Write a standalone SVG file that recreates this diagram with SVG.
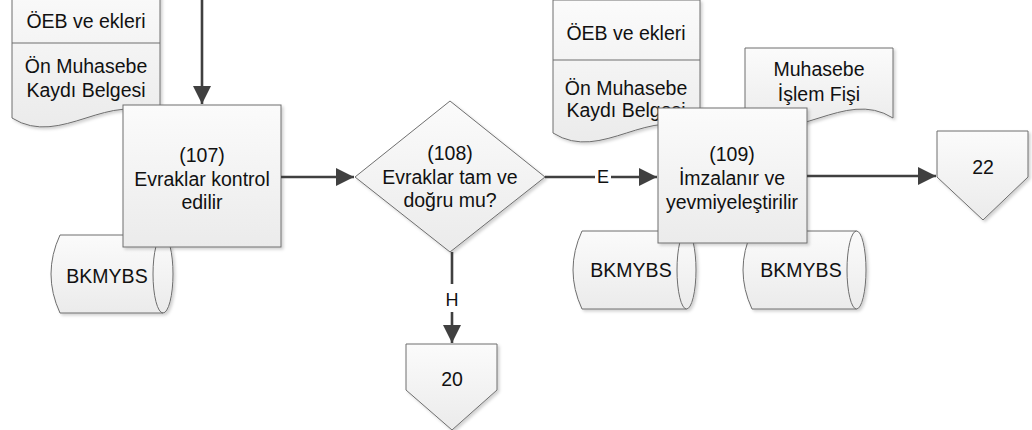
<svg xmlns="http://www.w3.org/2000/svg" width="1032" height="430" viewBox="0 0 1032 430">
<defs>
<linearGradient id="g" x1="0" y1="0" x2="0" y2="1">
<stop offset="0" stop-color="#fbfbfb"/>
<stop offset="1" stop-color="#ebebeb"/>
</linearGradient>
<filter id="sh" x="-10%" y="-10%" width="130%" height="130%">
<feDropShadow dx="2" dy="2" stdDeviation="1.5" flood-color="#000" flood-opacity="0.18"/>
</filter>
<marker id="ah" viewBox="0 0 10 10" refX="10" refY="5" markerWidth="7" markerHeight="7" markerUnits="strokeWidth" orient="auto">
<path d="M0,0 L10,5 L0,10 z" fill="#404040"/>
</marker>
</defs>
<style>
.s{fill:url(#g);stroke:#6e6e6e;stroke-width:1;filter:url(#sh)}
.ln{fill:none;stroke:#6e6e6e;stroke-width:1}
.c{fill:none;stroke:#404040;stroke-width:2.6}
.t{font-family:"Liberation Sans",Arial,sans-serif;font-size:19.5px;fill:#111;text-anchor:middle}
.lb{font-family:"Liberation Sans",Arial,sans-serif;font-size:18px;fill:#111;text-anchor:middle}
</style>
<rect width="1032" height="430" fill="#fff"/>

<g id="doc-left">
<path class="s" d="M12,-20 H160 V118 C110.7,87 61.3,149 12,118 Z"/>
<line class="ln" x1="12" y1="43" x2="160" y2="43"/>
<text class="t" x="86" y="28">ÖEB ve ekleri</text>
<text class="t" x="86" y="73">Ön Muhasebe</text>
<text class="t" x="86" y="97">Kaydı Belgesi</text>
</g>

<g id="cyl-left">
<path class="s" d="M60,235 H163 A10,39 0 0 1 163,313 H60 Q42,274 60,235 Z"/>
<path class="ln" d="M163,235 A10,39 0 0 0 163,313"/>
<text class="t" x="107" y="283">BKMYBS</text>
</g>

<g id="doc-mid">
<path class="s" d="M553,0 H700 V133 C651,102 602,164 553,133 Z"/>
<line class="ln" x1="553" y1="60" x2="700" y2="60"/>
<text class="t" x="626" y="40">ÖEB ve ekleri</text>
<text class="t" x="626" y="95">Ön Muhasebe</text>
<text class="t" x="626" y="117">Kaydı Belgesi</text>
</g>

<g id="doc-fis">
<path class="s" d="M745,48 H893 V118 C843.7,87 794.3,149 745,118 Z"/>
<text class="t" x="819" y="76">Muhasebe</text>
<text class="t" x="819" y="101">İşlem Fişi</text>
</g>

<g id="cyl-r1">
<path class="s" d="M582,231 H686.5 A9.5,39 0 0 1 686.5,309 H582 Q564,270 582,231 Z"/>
<path class="ln" d="M686.5,231 A9.5,39 0 0 0 686.5,309"/>
<text class="t" x="631" y="277">BKMYBS</text>
</g>

<g id="cyl-r2">
<path class="s" d="M752,231 H856.5 A9.5,39 0 0 1 856.5,309 H752 Q734,270 752,231 Z"/>
<path class="ln" d="M856.5,231 A9.5,39 0 0 0 856.5,309"/>
<text class="t" x="801" y="277">BKMYBS</text>
</g>

<g id="n107">
<rect class="s" x="123" y="105" width="158" height="142"/>
<text class="t" x="202" y="162">(107)</text>
<text class="t" x="202" y="186">Evraklar kontrol</text>
<text class="t" x="202" y="209">edilir</text>
</g>

<g id="n108">
<path class="s" d="M450,101 L545,177 L450,252 L355,177 Z"/>
<text class="t" x="450" y="160">(108)</text>
<text class="t" x="450" y="184">Evraklar tam ve</text>
<text class="t" x="450" y="207">doğru mu?</text>
</g>

<g id="n109">
<rect class="s" x="658" y="108" width="149" height="135"/>
<text class="t" x="732" y="161">(109)</text>
<text class="t" x="732" y="185">İmzalanır ve</text>
<text class="t" x="732" y="209">yevmiyeleştirilir</text>
</g>

<g id="off20">
<path class="s" d="M406,344 H497 V390 L452,430 L406,390 Z"/>
<text class="t" x="452" y="386">20</text>
</g>

<g id="off22">
<path class="s" d="M937,131 H1028 V177 L983,220 L937,177 Z"/>
<text class="t" x="983" y="174">22</text>
</g>

<g id="connectors">
<line class="c" x1="202" y1="0" x2="202" y2="104" marker-end="url(#ah)"/>
<line class="c" x1="281" y1="177" x2="354" y2="177" marker-end="url(#ah)"/>
<line class="c" x1="545" y1="177" x2="595" y2="177"/>
<line class="c" x1="611" y1="177" x2="657" y2="177" marker-end="url(#ah)"/>
<text class="lb" x="603" y="183">E</text>
<line class="c" x1="452" y1="252" x2="452" y2="284"/>
<line class="c" x1="452" y1="312" x2="452" y2="343" marker-end="url(#ah)"/>
<text class="lb" x="452" y="306">H</text>
<line class="c" x1="807" y1="176" x2="936" y2="176" marker-end="url(#ah)"/>
</g>
</svg>
